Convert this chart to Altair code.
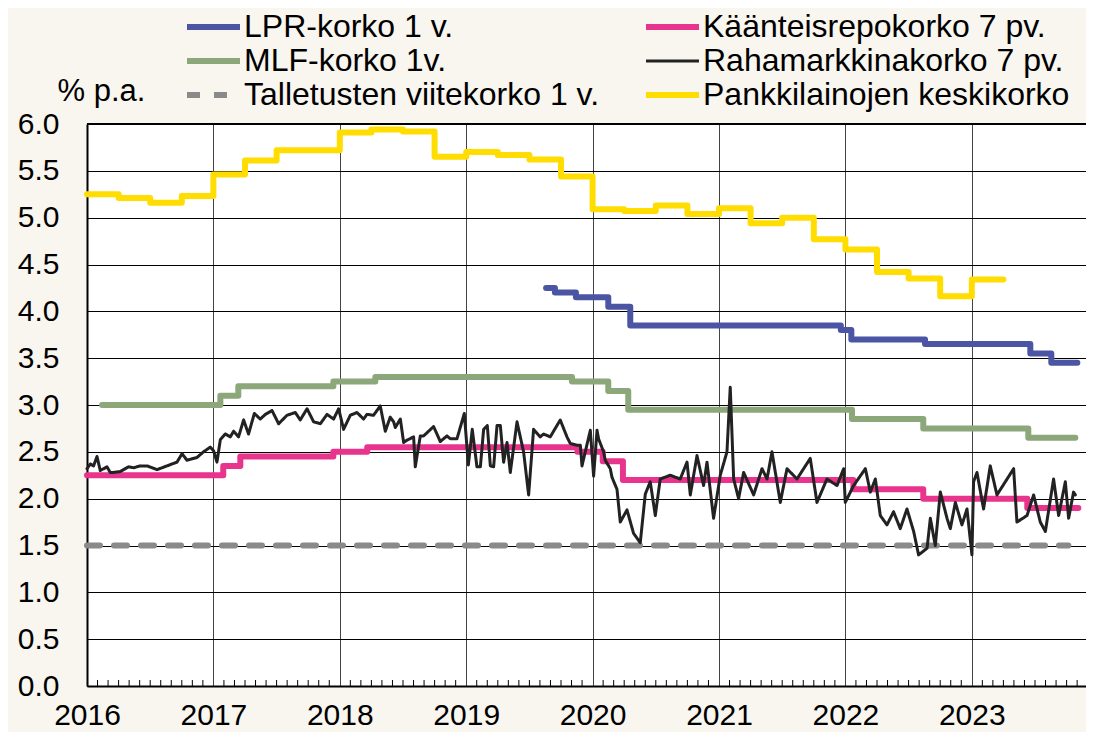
import altair as alt
import pandas as pd

# ---- series names (legend fills column by column: 3 rows x 2 columns) ----
LPR = "LPR-korko 1 v."
REPO = "Käänteisrepokorko 7 pv."
MLF = "MLF-korko 1v."
MM = "Rahamarkkinakorko 7 pv."
DEP = "Talletusten viitekorko 1 v."
BANK = "Pankkilainojen keskikorko"

legend_order = [LPR, MLF, DEP, REPO, MM, BANK]
colors = ["#4b55a3", "#8ca77a", "#8a8a8a", "#e8348c", "#222222", "#ffdd00"]
dashes = [[1, 0], [1, 0], [13, 14], [1, 0], [1, 0], [1, 0]]
widths = [6, 6, 6, 6, 3, 6]

year_ticks = [2016, 2017, 2018, 2019, 2020, 2021, 2022, 2023]
y_ticks = [0.0, 0.5, 1.0, 1.5, 2.0, 2.5, 3.0, 3.5, 4.0, 4.5, 5.0, 5.5, 6.0]

# ---- Pankkilainojen keskikorko (quarterly, step) ----
bank_t = [2016.00, 2016.25, 2016.50, 2016.75, 2017.00, 2017.25, 2017.50, 2017.75,
          2018.00, 2018.25, 2018.50, 2018.75, 2019.00, 2019.25, 2019.50, 2019.75,
          2020.00, 2020.25, 2020.50, 2020.75, 2021.00, 2021.25, 2021.50, 2021.75,
          2022.00, 2022.25, 2022.50, 2022.75, 2023.00, 2023.25]
bank_v = [5.25, 5.21, 5.16, 5.23, 5.46, 5.61, 5.72, 5.72,
          5.91, 5.94, 5.92, 5.65, 5.70, 5.67, 5.62, 5.44,
          5.09, 5.07, 5.13, 5.04, 5.10, 4.94, 5.00, 4.77,
          4.66, 4.42, 4.35, 4.16, 4.34, 4.34]

# ---- LPR 1 v. ----
lpr_t = [2019.632, 2019.702, 2019.868, 2020.124, 2020.298, 2021.964, 2022.047,
         2022.630, 2023.463, 2023.629, 2023.835]
lpr_v = [4.25, 4.20, 4.15, 4.05, 3.85, 3.80, 3.70, 3.65, 3.55, 3.45, 3.45]

# ---- MLF 1v. ----
mlf_t = [2016.119, 2017.055, 2017.197, 2017.949, 2018.281, 2019.837, 2020.124,
         2020.282, 2022.052, 2022.616, 2023.447, 2023.819]
mlf_v = [3.00, 3.10, 3.20, 3.25, 3.30, 3.25, 3.15, 2.95, 2.85, 2.75, 2.65, 2.65]

# ---- Käänteisrepokorko 7 pv. ----
repo_t = [2016.000, 2017.078, 2017.213, 2017.949, 2018.217, 2019.880, 2020.080,
          2020.240, 2022.063, 2022.616, 2023.439, 2023.843]
repo_v = [2.25, 2.35, 2.45, 2.50, 2.55, 2.50, 2.40, 2.20, 2.10, 2.00, 1.90, 1.90]

# ---- Talletusten viitekorko 1 v. ----
dep_t = [2016.000, 2023.764]
dep_v = [1.50, 1.50]

# ---- Rahamarkkinakorko 7 pv. ----
mm_t = [2016.000, 2016.026, 2016.052, 2016.079, 2016.105, 2016.158, 2016.184, 2016.208, 2016.263, 2016.329,
        2016.369, 2016.422, 2016.475, 2016.554, 2016.633, 2016.712, 2016.752, 2016.791, 2016.870, 2016.922,
        2016.975, 2017.002, 2017.028, 2017.055, 2017.094, 2017.134, 2017.160, 2017.199, 2017.239, 2017.278,
        2017.324, 2017.371, 2017.411, 2017.464, 2017.516, 2017.582, 2017.648, 2017.687, 2017.741, 2017.793,
        2017.846, 2017.899, 2017.951, 2017.991, 2018.030, 2018.083, 2018.136, 2018.188, 2018.215, 2018.267,
        2018.320, 2018.360, 2018.399, 2018.426, 2018.439, 2018.479, 2018.505, 2018.526, 2018.584, 2018.597,
        2018.637, 2018.663, 2018.742, 2018.795, 2018.848, 2018.874, 2018.927, 2018.985, 2019.017, 2019.048,
        2019.085, 2019.112, 2019.138, 2019.167, 2019.191, 2019.217, 2019.244, 2019.270, 2019.296, 2019.323,
        2019.349, 2019.402, 2019.454, 2019.494, 2019.533, 2019.586, 2019.612, 2019.665, 2019.744, 2019.797,
        2019.823, 2019.877, 2019.903, 2019.916, 2019.982, 2020.008, 2020.035, 2020.047, 2020.087, 2020.100,
        2020.140, 2020.153, 2020.193, 2020.219, 2020.272, 2020.324, 2020.377, 2020.417, 2020.456, 2020.496,
        2020.535, 2020.614, 2020.693, 2020.747, 2020.773, 2020.826, 2020.878, 2020.905, 2020.957, 2021.010,
        2021.063, 2021.089, 2021.116, 2021.155, 2021.195, 2021.274, 2021.340, 2021.380, 2021.419, 2021.485,
        2021.538, 2021.617, 2021.722, 2021.775, 2021.854, 2021.934, 2021.986, 2021.999, 2022.065, 2022.158,
        2022.197, 2022.237, 2022.276, 2022.329, 2022.381, 2022.434, 2022.487, 2022.540, 2022.579, 2022.646,
        2022.672, 2022.711, 2022.751, 2022.804, 2022.830, 2022.870, 2022.922, 2022.962, 2023.001, 2023.014,
        2023.041, 2023.093, 2023.146, 2023.199, 2023.265, 2023.331, 2023.357, 2023.437, 2023.489, 2023.542,
        2023.582, 2023.647, 2023.687, 2023.740, 2023.766, 2023.805, 2023.819]
mm_v = [2.32, 2.37, 2.35, 2.45, 2.30, 2.34, 2.28, 2.28, 2.29, 2.34,
        2.33, 2.35, 2.35, 2.31, 2.35, 2.39, 2.48, 2.41, 2.44, 2.50,
        2.55, 2.51, 2.39, 2.63, 2.69, 2.66, 2.72, 2.66, 2.84, 2.69,
        2.91, 2.85, 2.90, 2.94, 2.80, 2.89, 2.92, 2.84, 2.96, 2.82,
        2.80, 2.90, 2.85, 2.96, 2.74, 2.89, 2.92, 2.85, 2.90, 2.89,
        2.99, 2.72, 2.87, 2.82, 2.76, 2.85, 2.60, 2.62, 2.66, 2.34,
        2.67, 2.67, 2.77, 2.61, 2.67, 2.64, 2.64, 2.91, 2.36, 2.74,
        2.34, 2.34, 2.74, 2.78, 2.35, 2.34, 2.78, 2.78, 2.39, 2.60,
        2.28, 2.82, 2.50, 2.04, 2.74, 2.66, 2.69, 2.66, 2.84, 2.66,
        2.59, 2.57, 2.57, 2.35, 2.73, 2.24, 2.73, 2.64, 2.50, 2.41,
        2.32, 2.23, 2.10, 1.75, 1.88, 1.63, 1.53, 2.05, 2.18, 1.82,
        2.21, 2.25, 2.21, 2.39, 2.04, 2.46, 2.14, 2.39, 1.79, 2.25,
        2.50, 3.19, 2.21, 2.00, 2.28, 2.04, 2.32, 2.21, 2.50, 1.96,
        2.32, 2.21, 2.43, 1.96, 2.21, 2.14, 2.32, 1.96, 2.14, 2.32,
        2.07, 2.21, 1.82, 1.72, 1.86, 1.68, 1.89, 1.65, 1.40, 1.47,
        1.79, 1.50, 2.07, 1.79, 1.68, 1.96, 1.72, 1.89, 1.40, 2.18,
        2.28, 1.89, 2.35, 2.04, 2.18, 2.32, 1.75, 1.82, 2.04, 1.75,
        1.65, 2.21, 1.82, 2.18, 1.79, 2.07, 2.04]
assert len(mm_t) == len(mm_v)

# ---- build long table ----
frames = []
for name, ts, vs in [(DEP, dep_t, dep_v), (BANK, bank_t, bank_v), (LPR, lpr_t, lpr_v),
                     (MLF, mlf_t, mlf_v), (REPO, repo_t, repo_v), (MM, mm_t, mm_v)]:
    frames.append(pd.DataFrame({"t": ts, "v": vs, "s": name}))
df = pd.concat(frames, ignore_index=True)

months = pd.DataFrame({"m": [y + k / 12 for y in range(2016, 2024) for k in range(1, 12)]})

W, H = 999, 562
XMAX = 2016 + W / 126.4
FONT = "Liberation Sans"

x_axis = alt.Axis(values=year_ticks, format="d", labelFontSize=30, labelFont=FONT,
                  labelColor="#000", labelPadding=14, labelFlush=False, labelOverlap=False,
                  grid=True, gridColor="#444", gridWidth=1, ticks=False,
                  domain=True, domainColor="#000", domainWidth=2, title=None)
y_axis = alt.Axis(values=y_ticks, format=".1f", labelFontSize=30, labelFont=FONT,
                  labelColor="#000", labelPadding=28, grid=True, gridColor="#000",
                  gridWidth=1, ticks=False, domain=True, domainColor="#000", domainWidth=2,
                  title="% p.a.", titleAngle=0, titleAlign="left", titleBaseline="alphabetic",
                  titleX=-30, titleY=-24, titleFontSize=31, titleFont=FONT,
                  titleFontWeight="normal", titleColor="#000")

X = alt.X("t:Q", scale=alt.Scale(domain=[2016, XMAX], nice=False, zero=False), axis=x_axis)
Y = alt.Y("v:Q", scale=alt.Scale(domain=[0, 6], nice=False, zero=True), axis=y_axis)

leg = alt.Legend(title=None, orient="none", legendX=97, legendY=-114, columns=2,
                 symbolType="stroke", symbolSize=2809, labelFontSize=32, labelFont=FONT,
                 labelColor="#000", rowPadding=0, clipHeight=34, columnPadding=43,
                 labelOffset=1, padding=0, labelLimit=0)

COLOR = alt.Color("s:N", scale=alt.Scale(domain=legend_order, range=colors), legend=leg)
DASH = alt.StrokeDash("s:N", scale=alt.Scale(domain=legend_order, range=dashes), legend=leg)
SW = alt.StrokeWidth("s:N", scale=alt.Scale(type="ordinal", domain=legend_order, range=widths), legend=leg)

base = alt.Chart(df)


def series_layer(name, interp):
    return base.transform_filter(alt.datum.s == name).mark_line(
        interpolate=interp, strokeCap="round", strokeJoin="round"
    ).encode(x=X, y=Y, color=COLOR, strokeDash=DASH, strokeWidth=SW)


layers = [
    series_layer(DEP, "linear"),
    series_layer(BANK, "step-after"),
    series_layer(LPR, "step-after"),
    series_layer(MLF, "step-after"),
    series_layer(REPO, "step-after"),
    series_layer(MM, "linear"),
]

minor = alt.Chart(months).mark_rule(color="#000", strokeWidth=1).encode(
    x=alt.X("m:Q", scale=alt.Scale(domain=[2016, XMAX], nice=False, zero=False), axis=x_axis),
    y=alt.value(H - 6), y2=alt.value(H))

top = alt.Chart(pd.DataFrame({"v": [6.0]})).mark_rule(color="#000", strokeWidth=2).encode(
    y=alt.Y("v:Q", scale=alt.Scale(domain=[0, 6], nice=False), axis=y_axis))

chart = alt.layer(minor, *layers, top).properties(
    width=W, height=H,
    autosize=alt.AutoSizeParams(type="none"),
    padding={"left": 79, "top": 116, "right": 0, "bottom": 46},
).configure(background="#f9f5ef").configure_view(fill="#ffffff", strokeWidth=0)

chart.save("out.html", embed_options={"renderer": "svg", "actions": False})
